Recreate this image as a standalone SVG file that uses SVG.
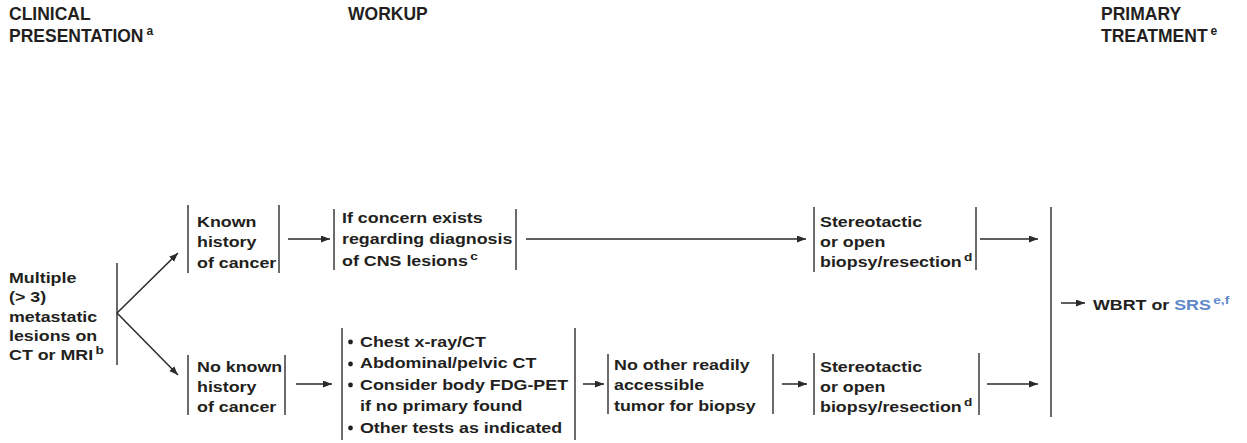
<svg xmlns="http://www.w3.org/2000/svg" width="1247" height="443" viewBox="0 0 1247 443">
<style>
.hdr{font-family:"Liberation Sans",Arial,sans-serif;font-weight:bold;font-size:17.5px;fill:#231f20}
.t{font-family:"Liberation Sans",Arial,sans-serif;font-weight:bold;font-size:15px;fill:#231f20}
.sup{font-size:11.5px}
.hsup{font-size:12px}
.bar{stroke:#3a3a3a;stroke-width:1.5;fill:none}
.arr{stroke:#2a2a2a;stroke-width:1.5;fill:none;marker-end:url(#ah)}
.blue{fill:#5f88cc}
</style>
<defs>
<marker id="ah" markerUnits="userSpaceOnUse" markerWidth="10" markerHeight="8" refX="9" refY="3.5" orient="auto">
<path d="M0,0 L9,3.5 L0,7 z" fill="#2a2a2a"/>
</marker>
</defs>
<rect width="1247" height="443" fill="#ffffff"/>

<g id="headers">
<text class="hdr" x="9" y="20">CLINICAL</text>
<text class="hdr" x="9" y="42">PRESENTATION<tspan class="hsup" dx="3" dy="-7">a</tspan></text>
<text class="hdr" x="348" y="20">WORKUP</text>
<text class="hdr" x="1101" y="20">PRIMARY</text>
<text class="hdr" x="1101" y="42">TREATMENT<tspan class="hsup" dx="3" dy="-7">e</tspan></text>
</g>

<g id="node-multiple">
<text class="t" transform="translate(9,283) scale(1.19,1)"><tspan x="0" y="0">Multiple</tspan><tspan x="0" y="19.3">(&gt; 3)</tspan><tspan x="0" y="38.6">metastatic</tspan><tspan x="0" y="57.9">lesions on</tspan><tspan x="0" y="77.2">CT or MRI</tspan><tspan class="sup" dx="2" dy="-6">b</tspan></text>
<line class="bar" x1="117" y1="263" x2="117" y2="365"/>
</g>

<g id="node-known">
<line class="bar" x1="188" y1="205" x2="188" y2="273"/>
<text class="t" transform="translate(197,227) scale(1.19,1)"><tspan x="0" y="0">Known</tspan><tspan x="0" y="20.5">history</tspan><tspan x="0" y="41">of cancer</tspan></text>
<line class="bar" x1="279" y1="205" x2="279" y2="273"/>
</g>

<g id="node-noknown">
<line class="bar" x1="188" y1="355" x2="188" y2="415"/>
<text class="t" transform="translate(197,372) scale(1.19,1)"><tspan x="0" y="0">No known</tspan><tspan x="0" y="20">history</tspan><tspan x="0" y="40">of cancer</tspan></text>
<line class="bar" x1="285" y1="355" x2="285" y2="415"/>
</g>

<g id="node-concern">
<line class="bar" x1="334" y1="209" x2="334" y2="270"/>
<text class="t" transform="translate(342,223) scale(1.19,1)"><tspan x="0" y="0">If concern exists</tspan><tspan x="0" y="21.5">regarding diagnosis</tspan><tspan x="0" y="43">of CNS lesions</tspan><tspan class="sup" dx="2" dy="-6">c</tspan></text>
<line class="bar" x1="516" y1="209" x2="516" y2="270"/>
</g>

<g id="node-tests">
<line class="bar" x1="342" y1="328" x2="342" y2="440"/>
<g fill="#231f20">
<circle cx="350.5" cy="342" r="2.4"/>
<circle cx="350.5" cy="364" r="2.4"/>
<circle cx="350.5" cy="385" r="2.4"/>
<circle cx="350.5" cy="428" r="2.4"/>
</g>
<text class="t" transform="translate(360,347) scale(1.19,1)"><tspan x="0" y="0">Chest x-ray/CT</tspan><tspan x="0" y="21.5">Abdominal/pelvic CT</tspan><tspan x="0" y="43">Consider body FDG-PET</tspan><tspan x="0" y="64.5">if no primary found</tspan><tspan x="0" y="86">Other tests as indicated</tspan></text>
<line class="bar" x1="575" y1="328" x2="575" y2="440"/>
</g>

<g id="node-noother">
<line class="bar" x1="608" y1="354" x2="608" y2="414"/>
<text class="t" transform="translate(614,370) scale(1.19,1)"><tspan x="0" y="0">No other readily</tspan><tspan x="0" y="20.5">accessible</tspan><tspan x="0" y="41">tumor for biopsy</tspan></text>
<line class="bar" x1="773" y1="354" x2="773" y2="414"/>
</g>

<g id="node-biopsy-top">
<line class="bar" x1="814" y1="207" x2="814" y2="272"/>
<text class="t" transform="translate(820,227) scale(1.19,1)"><tspan x="0" y="0">Stereotactic</tspan><tspan x="0" y="20">or open</tspan><tspan x="0" y="40">biopsy/resection</tspan><tspan class="sup" dx="2" dy="-6">d</tspan></text>
<line class="bar" x1="976" y1="207" x2="976" y2="270"/>
</g>

<g id="node-biopsy-bottom">
<line class="bar" x1="814" y1="353" x2="814" y2="415"/>
<text class="t" transform="translate(820,372) scale(1.19,1)"><tspan x="0" y="0">Stereotactic</tspan><tspan x="0" y="20">or open</tspan><tspan x="0" y="40">biopsy/resection</tspan><tspan class="sup" dx="2" dy="-6">d</tspan></text>
<line class="bar" x1="979" y1="353" x2="979" y2="415"/>
</g>

<g id="node-treatment">
<line class="bar" x1="1051" y1="207" x2="1051" y2="417"/>
<text class="t" transform="translate(1093,310) scale(1.19,1)">WBRT or <tspan class="blue">SRS</tspan><tspan class="blue sup" dx="2" dy="-6">e,f</tspan></text>
</g>

<g id="connectors">
<line class="arr" x1="117" y1="313" x2="178" y2="253"/>
<line class="arr" x1="117" y1="313" x2="178" y2="375"/>
<line class="arr" x1="288" y1="239" x2="330" y2="239"/>
<line class="arr" x1="526" y1="239" x2="806" y2="239"/>
<line class="arr" x1="980" y1="239" x2="1038" y2="239"/>
<line class="arr" x1="296" y1="384" x2="332" y2="384"/>
<line class="arr" x1="583" y1="384" x2="604" y2="384"/>
<line class="arr" x1="782" y1="384" x2="807" y2="384"/>
<line class="arr" x1="987" y1="384" x2="1038" y2="384"/>
<line class="arr" x1="1061" y1="303" x2="1085" y2="303"/>
</g>
</svg>
